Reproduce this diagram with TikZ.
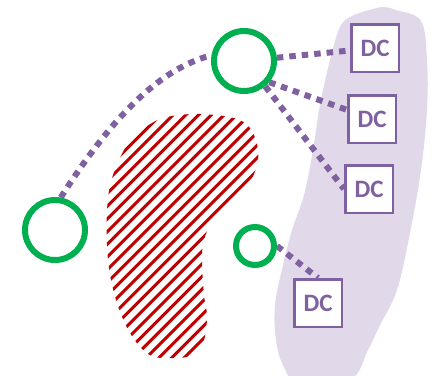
\documentclass[tikz,border=0pt]{standalone}
\usepackage{fontspec}
\setsansfont{Carlito}
\pgfdeclarelayer{bgbg}
\pgfdeclarelayer{bg}
\pgfsetlayers{bgbg,bg,main}
\definecolor{dcpurple}{HTML}{7F60A0}
\definecolor{lav}{HTML}{E1D9EA}
\definecolor{ringgreen}{HTML}{00B050}
\definecolor{hatchred}{HTML}{C00000}
\tikzset{
  ring/.style={circle, draw=ringgreen, line width=6pt, minimum size=#1, inner sep=0pt},
  dcbox/.style={rectangle, draw=dcpurple, fill=white, line width=2.5pt, minimum size=47.5pt, inner sep=0pt,
    text=dcpurple, font=\sffamily\bfseries\fontsize{25}{25}\selectfont},
  dotlink/.style={draw=dcpurple, line width=6pt, dash pattern=on 6.5pt off 6pt}
}
\begin{document}
\begin{tikzpicture}[x=1pt,y=-1pt]
\useasboundingbox (0,0) rectangle (436,375);
\clip (0,0) rectangle (436,375);
\node[ring=60pt] (c1) at (244,61) {};
\node[ring=60pt] (c2) at (55,230) {};
\node[ring=38pt] (c3) at (255,246) {};
\node[dcbox] (dc1) at (375,48) {DC};
\node[dcbox] (dc2) at (372,119) {DC};
\node[dcbox] (dc3) at (369,189) {DC};
\node[dcbox] (dc4) at (318,303) {DC};
\begin{pgfonlayer}{bgbg}
  \fill[lav] plot[smooth cycle, tension=0.6] coordinates {
    (340,27) (352,16) (373,9) (384,7) (396,10) (421,21) (427,60) (427,110)
    (421,170) (410,233) (397,290) (380,325) (368,350) (350,380) (300,385)
    (283,365) (276,340) (275,305) (283,265) (292,230) (304,195) (313,150)
    (320,105) (330,60)};
  \begin{scope}
    \clip plot[smooth cycle, tension=0.6] coordinates {
      (167,117) (200,114) (237,119) (253,133) (258,160) (245,190) (215,218)
      (204,240) (202,262) (204,295) (207,317) (203,343) (190,356) (165,358)
      (148,354) (130,333) (116,300) (108,260) (107,210) (113,175) (130,140) (147,126)};
    \foreach \c in {250,262.7,...,580}
      \draw[hatchred, line width=3pt] (\c-400,400) -- (\c,0);
  \end{scope}
\end{pgfonlayer}
\begin{pgfonlayer}{bg}
  \draw[dotlink] (c2.80) .. controls (105,128) and (154,70) .. (c1.170);
  \draw[dotlink] (c1) -- (dc1);
  \draw[dotlink] (c1.-40) -- (dc2.160);
  \draw[dotlink] (c1.-50) -- (dc3.west);
  \draw[dotlink] (c3.east) -- (dc4.north);
\end{pgfonlayer}
\end{tikzpicture}
\end{document}
